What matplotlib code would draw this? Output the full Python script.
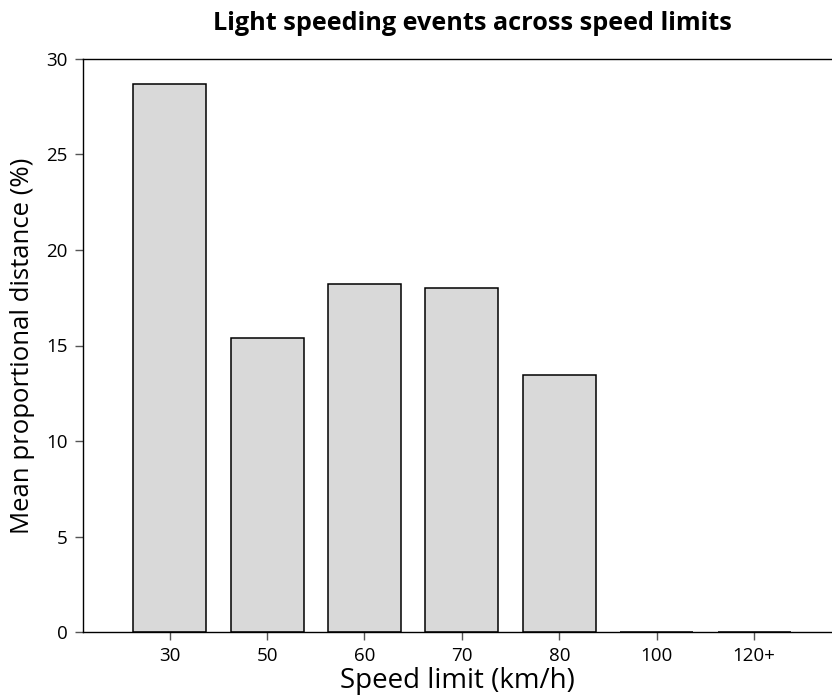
import numpy as np
import matplotlib.pyplot as plt

plt.rcParams['font.family'] = ['Open Sans', 'DejaVu Sans']

limits = ['30', '50', '60', '70', '80', '100', '120+']
mean_dist = [28.7, 15.4, 18.2, 18.0, 13.45, 0.0, 0.0]

fig = plt.figure(figsize=(8.32, 6.98), dpi=100)
ax = fig.add_axes([83 / 832, 1 - 632 / 698, 1 - 83 / 832, (632 - 59) / 698])

x = np.arange(len(limits))
ax.bar(x, mean_dist, width=0.75, color='#d9d9d9', edgecolor='black', linewidth=1.1)

ax.set_xlim(-0.89, 6.8)
ax.set_ylim(0, 30)
ax.set_xticks(x)
ax.set_xticklabels(limits)
ax.set_yticks([0, 5, 10, 15, 20, 25, 30])
ax.tick_params(axis='both', direction='out', length=6, width=1, color='#555555',
               labelsize=13.5, pad=5)
ax.spines['right'].set_visible(False)
for s in ['left', 'top', 'bottom']:
    ax.spines[s].set_linewidth(1)

ax.set_xlabel('Speed limit (km/h)', fontsize=20, labelpad=1)
ax.set_ylabel('Mean proportional distance (%)', fontsize=18.5, labelpad=8)
fig.text(0.568, 0.967, 'Light speeding events across speed limits', fontsize=18.2,
         fontweight='bold', ha='center', va='center')

plt.savefig('out.png', dpi=100)
